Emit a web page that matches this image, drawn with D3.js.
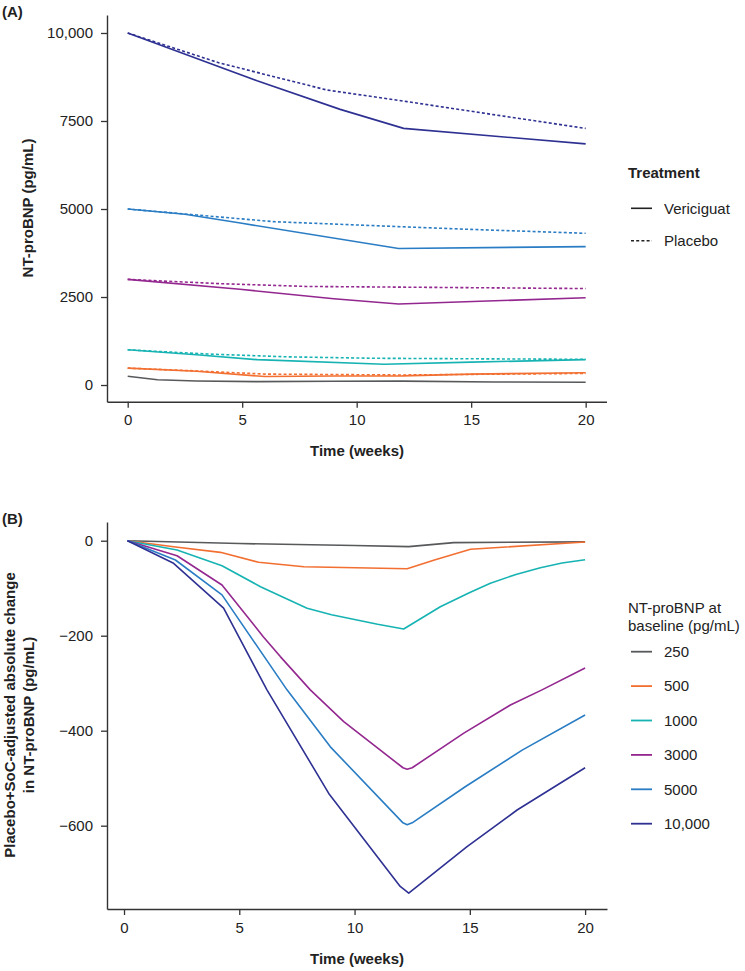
<!DOCTYPE html>
<html>
<head>
<meta charset="utf-8">
<script src="https://cdn.jsdelivr.net/npm/d3@7"></script>
<style>
  html, body { margin: 0; padding: 0; background: #fff; }
  svg { display: block; font-family: "Liberation Sans", Arial, Helvetica, sans-serif; }
</style>
</head>
<body>
<svg id="chart" width="745" height="971"></svg>
<script>
// ---------- DATA ----------
const baselines = ["250", "500", "1000", "3000", "5000", "10,000"];
const seriesColors = ["#58595b", "#f26f31", "#17b3b3", "#93278f", "#2a7dc4", "#2e3192"];
const treatments = ["Vericiguat", "Placebo"];

// Panel A: NT-proBNP over time [week, pg/mL]
const vericiguat250   = [[0,250],[1.3,150],[3,115],[5.65,95],[9,105],[12,110],[16,85],[20,80]];
const vericiguat500   = [[0,480],[3,390],[6,240],[9,255],[12,260],[15,310],[20,350]];
const vericiguat1000  = [[0,1000],[3,860],[5.65,720],[11.2,590],[15,650],[20,720]];
const vericiguat3000  = [[0,3000],[4.9,2720],[9,2450],[11.83,2300],[20,2480]];
const vericiguat5000  = [[0,5000],[2.5,4850],[4.92,4600],[11.83,3880],[20,3930]];
const vericiguat10000 = [[0,10000],[5.65,8640],[9.28,7830],[12.05,7290],[20,6850]];

const placebo500   = [[0,480],[3,400],[6,310],[12,285],[20,330]];
const placebo1000  = [[0,1000],[3.5,880],[7,800],[10.7,760],[15,745],[20,730]];
const placebo3000  = [[0,3000],[4,2880],[7.8,2800],[12,2780],[20,2740]];
const placebo5000  = [[0,5000],[3,4830],[6.37,4640],[11.8,4500],[15,4420],[20,4310]];
const placebo10000 = [[0,10000],[4,9150],[8.7,8380],[12.2,8050],[16.6,7620],[20,7290]];

// Panel B: placebo+SoC-adjusted absolute change [week, pg/mL]
const change250   = [[0.15,0],[5,-6],[10,-10],[12.35,-12.5],[14.3,-4],[20,-2.5]];
const change500   = [[0.15,0],[2.15,-12.6],[4.18,-24.5],[5.84,-45.5],[7.8,-54.7],[12.28,-58.9],[13.5,-40],[15.03,-18.1],[20,-2.7]];
const change1000  = [[0.15,0],[2.3,-19.6],[4.25,-52.6],[5.92,-96.8],[7,-121],[7.94,-142],[9,-156],[10,-166],[11,-176],[12.13,-186],[13.72,-139],[15,-109],[15.89,-89.7],[17,-71],[18.06,-56.8],[19,-47],[20,-40]];
const change3000  = [[0.15,0],[2.3,-31.6],[4.25,-93.3],[6.04,-202],[6.78,-244],[8.08,-314],[9.53,-381],[12.1,-478],[12.28,-481],[12.5,-478],[14.74,-405],[16.76,-346],[18.13,-314],[20,-268]];
const change5000  = [[0.15,0],[2.23,-40.6],[4.25,-114],[7.07,-314],[8.95,-434],[12.1,-594],[12.28,-598],[12.5,-594],[14.8,-518],[17.27,-441],[20,-367]];
const change10000 = [[0.15,0],[2.15,-47.6],[4.32,-142],[6.2,-314],[8.88,-532],[11.98,-728],[12.35,-742],[14.88,-644],[17.05,-567],[20,-478]];

const xTicks = [0, 5, 10, 15, 20];
const yTicksA = [0, 2500, 5000, 7500, 10000];
const yTickLabelsA = ["0", "2500", "5000", "7500", "10,000"];
const yTicksB = [0, -200, -400, -600];

// ---------- DRAW ----------
const svg = d3.select("#chart");
const FS = 15;
const axisColor = "#333";

function styleAxis(g) {
  g.select(".domain").attr("stroke", axisColor).attr("stroke-width", 1.4);
  g.selectAll(".tick line").attr("stroke", axisColor).attr("stroke-width", 1.3);
  g.selectAll(".tick text").attr("fill", "#222").style("font-size", FS + "px")
    .style("font-family", '"Liberation Sans", Arial, sans-serif');
}

// ---- Panel A ----
const xA = d3.scaleLinear().domain([-0.904, 20.91]).range([107, 606.5]);
const yA = d3.scaleLinear().domain([-474, 10511]).range([401.7, 15]);

svg.append("g").attr("transform", "translate(0,401.7)")
  .call(d3.axisBottom(xA).tickValues(xTicks).tickSize(6).tickPadding(7).tickSizeOuter(0))
  .call(styleAxis);
svg.append("g").attr("transform", "translate(107,0)")
  .call(d3.axisLeft(yA).tickValues(yTicksA).tickFormat((d, i) => yTickLabelsA[i]).tickSize(6).tickPadding(8).tickSizeOuter(0))
  .call(styleAxis);

const lineA = d3.line().x(d => xA(d[0])).y(d => yA(d[1]));
const vericiguatA = [vericiguat250, vericiguat500, vericiguat1000, vericiguat3000, vericiguat5000, vericiguat10000];
const placeboA = [null, placebo500, placebo1000, placebo3000, placebo5000, placebo10000];

placeboA.forEach((s, i) => {
  if (!s) return;
  svg.append("path").datum(s).attr("d", lineA).attr("fill", "none")
    .attr("stroke", seriesColors[i]).attr("stroke-width", 1.6).attr("stroke-dasharray", "3,2.2");
});
vericiguatA.forEach((s, i) => {
  svg.append("path").datum(s).attr("d", lineA).attr("fill", "none")
    .attr("stroke", seriesColors[i]).attr("stroke-width", 1.6).attr("stroke-linejoin", "round");
});

svg.append("text").attr("x", 2).attr("y", 17).attr("font-weight", "bold").attr("font-size", FS).attr("fill", "#222").text("(A)");
svg.append("text").attr("transform", "translate(33.3,208) rotate(-90)").attr("text-anchor", "middle")
  .attr("font-weight", "bold").attr("font-size", FS).attr("fill", "#222").text("NT-proBNP (pg/mL)");
svg.append("text").attr("x", 357).attr("y", 456).attr("text-anchor", "middle")
  .attr("font-weight", "bold").attr("font-size", FS).attr("fill", "#222").text("Time (weeks)");

// Legend A
svg.append("text").attr("x", 628).attr("y", 177.5).attr("font-weight", "bold").attr("font-size", FS).attr("fill", "#222").text("Treatment");
treatments.forEach((t, i) => {
  const y = 208.3 + i * 32.5;
  svg.append("line").attr("x1", 631).attr("x2", 652).attr("y1", y).attr("y2", y)
    .attr("stroke", "#222").attr("stroke-width", 1.6).attr("stroke-dasharray", i === 1 ? "3,2.2" : null);
  svg.append("text").attr("x", 664).attr("y", y + 5.3).attr("font-size", FS).attr("fill", "#222").text(t);
});

// ---- Panel B ----
const xB = d3.scaleLinear().domain([-0.738, 20.95]).range([107, 607]);
const yB = d3.scaleLinear().domain([-775.4, 39.4]).range([909, 522]);

svg.append("g").attr("transform", "translate(0,909)")
  .call(d3.axisBottom(xB).tickValues(xTicks).tickSize(6).tickPadding(7).tickSizeOuter(0))
  .call(styleAxis);
svg.append("g").attr("transform", "translate(107,0)")
  .call(d3.axisLeft(yB).tickValues(yTicksB).tickSize(6).tickPadding(8).tickSizeOuter(0))
  .call(styleAxis);

const lineB = d3.line().x(d => xB(d[0])).y(d => yB(d[1]));
const changeB = [change250, change500, change1000, change3000, change5000, change10000];
changeB.forEach((s, i) => {
  svg.append("path").datum(s).attr("d", lineB).attr("fill", "none")
    .attr("stroke", seriesColors[i]).attr("stroke-width", 1.6).attr("stroke-linejoin", "round");
});

svg.append("text").attr("x", 2).attr("y", 523.5).attr("font-weight", "bold").attr("font-size", FS).attr("fill", "#222").text("(B)");
const yTitleB = svg.append("text").attr("transform", "translate(0,715) rotate(-90)").attr("text-anchor", "middle")
  .attr("font-weight", "bold").attr("font-size", FS).attr("fill", "#222");
yTitleB.append("tspan").attr("x", 0).attr("y", 14.5).text("Placebo+SoC-adjusted absolute change");
yTitleB.append("tspan").attr("x", 0).attr("y", 34).text("in NT-proBNP (pg/mL)");
svg.append("text").attr("x", 357).attr("y", 964).attr("text-anchor", "middle")
  .attr("font-weight", "bold").attr("font-size", FS).attr("fill", "#222").text("Time (weeks)");

// Legend B
svg.append("text").attr("x", 628).attr("y", 612.5).attr("font-size", FS).attr("fill", "#222").text("NT-proBNP at");
svg.append("text").attr("x", 628).attr("y", 630.5).attr("font-size", FS).attr("fill", "#222").text("baseline (pg/mL)");
baselines.forEach((b, i) => {
  const y = 651.7 + i * 34.4;
  svg.append("line").attr("x1", 631).attr("x2", 652).attr("y1", y).attr("y2", y)
    .attr("stroke", seriesColors[i]).attr("stroke-width", 1.8);
  svg.append("text").attr("x", 664).attr("y", y + 5.3).attr("font-size", FS).attr("fill", "#222").text(b);
});
</script>
</body>
</html>
